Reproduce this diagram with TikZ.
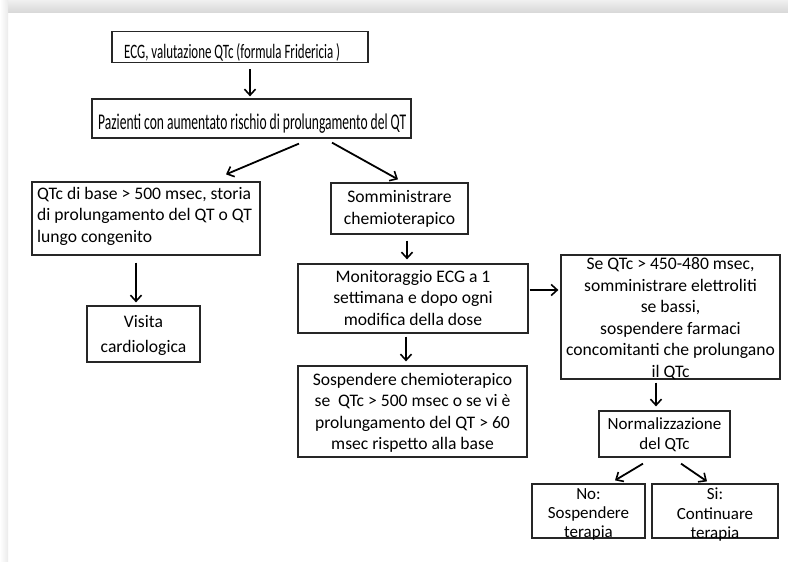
\documentclass[tikz,border=0pt]{standalone}
\usepackage{fontspec}
\setmainfont{Carlito}
\usetikzlibrary{arrows.meta}
\begin{document}
\begin{tikzpicture}[x=1pt,y=-1pt,
  box/.style={draw=black!85, line width=1.25pt, inner sep=0pt},
  txt/.style={inner sep=0pt, align=center, font=\fontsize{17.6}{21.5}\selectfont},
  arr/.style={-{Straight Barb[length=6pt,width=11pt,line width=1.6pt]}, line width=1.8pt, black}]
\useasboundingbox (0,0) rectangle (788,562);
% page background
\shade[top color=black!6, bottom color=black!15] (0,0) rectangle (788,12);
\shade[left color=white, right color=black!8] (0,0) rectangle (8,562);

% boxes
\node[box, minimum width=256pt, minimum height=31pt] (ecg) at (240,47) {};
\node[inner sep=0pt, anchor=base west] (ecg-t) at (124,59) {\resizebox{216pt}{\height}{\fontsize{20.5}{22}\selectfont ECG, valutazione QTc (formula Fridericia )}};

\node[box, minimum width=319pt, minimum height=39pt] (paz) at (251.5,118.5) {};
\node[inner sep=0pt, anchor=base west] (paz-t) at (98,129.5) {\resizebox{308pt}{\height}{\fontsize{22.5}{24}\selectfont Pazienti con aumentato rischio di prolungamento del QT}};

\node[box, minimum width=228pt, minimum height=73pt] (qtc) at (146,218.5) {};
\node[txt, align=left, anchor=west] (qtc-t) at (37,216) {QTc di base > 500 msec, storia\\di prolungamento del QT o QT\\lungo congenito};

\node[box, minimum width=113pt, minimum height=56pt] (vis) at (143.5,334) {};
\node[txt, font=\fontsize{17.6}{25}\selectfont] (vis-t) at (143.5,335) {Visita\\cardiologica};

\node[box, minimum width=137pt, minimum height=51pt] (som) at (399.5,208.5) {};
\node[txt] (som-t) at (399.5,209) {Somministrare\\chemioterapico};

\node[box, minimum width=230pt, minimum height=69pt] (mon) at (413,298.5) {};
\node[txt] (mon-t) at (413,298) {Monitoraggio ECG a 1\\settimana e dopo ogni\\modifica della dose};

\node[box, minimum width=219pt, minimum height=124pt] (se) at (670.5,317) {};
\node[txt] (se-t) at (670.5,318.5) {Se QTc > 450-480 msec,\\somministrare elettroliti\\se bassi,\\sospendere farmaci\\concomitanti che prolungano\\il QTc};

\node[box, minimum width=229pt, minimum height=91pt] (sos) at (412.5,411.5) {};
\node[txt] (sos-t) at (412.5,413) {Sospendere chemioterapico\\se\ \ QTc > 500 msec o se vi è\\prolungamento del QT > 60\\msec rispetto alla base};

\node[box, minimum width=131pt, minimum height=46pt] (norm) at (664.5,434) {};
\node[txt, font=\fontsize{17}{20}\selectfont] (norm-t) at (664.5,435) {Normalizzazione\\del QTc};

\node[box, minimum width=113pt, minimum height=54pt] (no) at (588.5,511) {};
\node[txt, font=\fontsize{17}{19}\selectfont] (no-t) at (588.5,514) {No:\\Sospendere\\terapia};

\node[box, minimum width=126pt, minimum height=54pt] (si) at (715,511) {};
\node[txt, font=\fontsize{17}{19.5}\selectfont] (si-t) at (715,515) {Si:\\Continuare\\terapia};

% arrows
\draw[arr] ([xshift=10pt,yshift=-6pt]ecg.south) -- ([xshift=-1.5pt,yshift=2pt]paz.north);
\draw[arr] ([xshift=47.5pt,yshift=-5pt]paz.south) -- ([xshift=80pt,yshift=7pt]qtc.north);
\draw[arr] ([xshift=80.5pt,yshift=-4pt]paz.south) -- ([xshift=-1.5pt,yshift=3pt]som.north);
\draw[arr] ([xshift=-10pt,yshift=-7pt]qtc.south) -- ([xshift=-7.5pt,yshift=3pt]vis.north);
\draw[arr] ([xshift=7.5pt,yshift=-6pt]som.south) -- ([xshift=-6pt,yshift=4pt]mon.north);
\draw[arr] ([xshift=1pt,yshift=8.5pt]mon.east) -- ([xshift=-2pt,yshift=27pt]se.west);
\draw[arr] ([xshift=-7pt,yshift=-3pt]mon.south) -- ([xshift=-6.5pt,yshift=4pt]sos.north);
\draw[arr] ([xshift=-14.5pt,yshift=-3pt]se.south) -- ([xshift=-8.5pt,yshift=4pt]norm.north);
\draw[arr] ([xshift=-21.5pt,yshift=-6pt]norm.south) -- ([xshift=26.5pt,yshift=3pt]no.north);
\draw[arr] ([xshift=16.5pt,yshift=-6pt]norm.south) -- ([xshift=-8pt,yshift=2pt]si.north);
\end{tikzpicture}
\end{document}
